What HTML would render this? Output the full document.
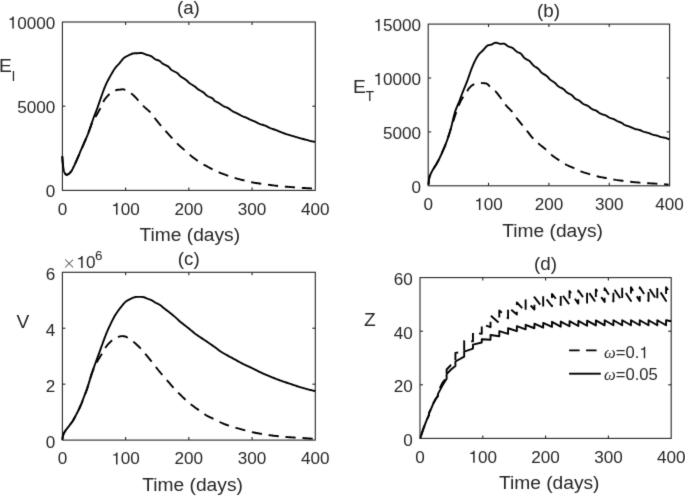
<!DOCTYPE html>
<html><head><meta charset="utf-8"><style>
html,body{margin:0;padding:0;background:#fff;}
svg{display:block;filter:grayscale(1);}
text{font-family:"Liberation Sans", sans-serif;fill:#262626;}
</style></head><body>
<svg width="685" height="496" viewBox="0 0 685 496">
<defs><filter id="sb" x="0" y="0" width="100%" height="100%" filterUnits="userSpaceOnUse" color-interpolation-filters="sRGB"><feConvolveMatrix order="3" kernelMatrix="0.01134 0.08382 0.01134 0.08382 0.61935 0.08382 0.01134 0.08382 0.01134" divisor="1" edgeMode="duplicate"/></filter></defs>
<g filter="url(#sb)">
<rect width="685" height="496" fill="#fff"/>
<rect x="62.4" y="22.0" width="252.90" height="168.40" fill="none" stroke="#262626" stroke-width="1.1"/>
<line x1="125.62" y1="190.4" x2="125.62" y2="187.4" stroke="#262626" stroke-width="1.1"/>
<line x1="125.62" y1="22.0" x2="125.62" y2="25.0" stroke="#262626" stroke-width="1.1"/>
<line x1="188.85" y1="190.4" x2="188.85" y2="187.4" stroke="#262626" stroke-width="1.1"/>
<line x1="188.85" y1="22.0" x2="188.85" y2="25.0" stroke="#262626" stroke-width="1.1"/>
<line x1="252.08" y1="190.4" x2="252.08" y2="187.4" stroke="#262626" stroke-width="1.1"/>
<line x1="252.08" y1="22.0" x2="252.08" y2="25.0" stroke="#262626" stroke-width="1.1"/>
<line x1="62.4" y1="106.20" x2="65.4" y2="106.20" stroke="#262626" stroke-width="1.1"/>
<line x1="315.3" y1="106.20" x2="312.3" y2="106.20" stroke="#262626" stroke-width="1.1"/>
<text x="45.69" y="197.00" font-size="17.1">0</text>
<text x="17.16" y="112.80" font-size="17.1">5000</text>
<path d="M12.32,28.60 L13.79,28.60 L13.79,16.58 L12.59,16.58 C12.23,18.00 11.75,18.51 9.38,18.72 L9.38,19.78 L12.32,19.78 Z" fill="#262626"/>
<text x="17.16" y="28.60" font-size="17.1">0000</text>
<text x="57.64" y="214.70" font-size="17.1">0</text>
<path d="M116.03,214.70 L117.50,214.70 L117.50,202.68 L116.30,202.68 C115.94,204.10 115.46,204.61 113.09,204.82 L113.09,205.88 L116.03,205.88 Z" fill="#262626"/>
<text x="120.87" y="214.70" font-size="17.1">00</text>
<text x="174.58" y="214.70" font-size="17.1">200</text>
<text x="237.81" y="214.70" font-size="17.1">300</text>
<text x="301.03" y="214.70" font-size="17.1">400</text>
<rect x="428.2" y="24.1" width="241.40" height="161.70" fill="none" stroke="#262626" stroke-width="1.1"/>
<line x1="488.55" y1="185.8" x2="488.55" y2="182.8" stroke="#262626" stroke-width="1.1"/>
<line x1="488.55" y1="24.1" x2="488.55" y2="27.1" stroke="#262626" stroke-width="1.1"/>
<line x1="548.90" y1="185.8" x2="548.90" y2="182.8" stroke="#262626" stroke-width="1.1"/>
<line x1="548.90" y1="24.1" x2="548.90" y2="27.1" stroke="#262626" stroke-width="1.1"/>
<line x1="609.25" y1="185.8" x2="609.25" y2="182.8" stroke="#262626" stroke-width="1.1"/>
<line x1="609.25" y1="24.1" x2="609.25" y2="27.1" stroke="#262626" stroke-width="1.1"/>
<line x1="428.2" y1="131.90" x2="431.2" y2="131.90" stroke="#262626" stroke-width="1.1"/>
<line x1="669.6" y1="131.90" x2="666.6" y2="131.90" stroke="#262626" stroke-width="1.1"/>
<line x1="428.2" y1="78.00" x2="431.2" y2="78.00" stroke="#262626" stroke-width="1.1"/>
<line x1="669.6" y1="78.00" x2="666.6" y2="78.00" stroke="#262626" stroke-width="1.1"/>
<text x="411.49" y="192.80" font-size="17.1">0</text>
<text x="382.96" y="138.90" font-size="17.1">5000</text>
<path d="M378.12,85.00 L379.59,85.00 L379.59,72.98 L378.39,72.98 C378.03,74.40 377.55,74.91 375.18,75.12 L375.18,76.18 L378.12,76.18 Z" fill="#262626"/>
<text x="382.96" y="85.00" font-size="17.1">0000</text>
<path d="M378.12,31.10 L379.59,31.10 L379.59,19.08 L378.39,19.08 C378.03,20.50 377.55,21.01 375.18,21.22 L375.18,22.28 L378.12,22.28 Z" fill="#262626"/>
<text x="382.96" y="31.10" font-size="17.1">5000</text>
<text x="423.44" y="210.10" font-size="17.1">0</text>
<path d="M478.95,210.10 L480.42,210.10 L480.42,198.08 L479.23,198.08 C478.87,199.50 478.39,200.01 476.01,200.22 L476.01,201.28 L478.95,201.28 Z" fill="#262626"/>
<text x="483.79" y="210.10" font-size="17.1">00</text>
<text x="534.63" y="210.10" font-size="17.1">200</text>
<text x="594.98" y="210.10" font-size="17.1">300</text>
<text x="655.33" y="210.10" font-size="17.1">400</text>
<rect x="62.4" y="272.3" width="252.90" height="167.80" fill="none" stroke="#262626" stroke-width="1.1"/>
<line x1="125.62" y1="440.1" x2="125.62" y2="437.1" stroke="#262626" stroke-width="1.1"/>
<line x1="125.62" y1="272.3" x2="125.62" y2="275.3" stroke="#262626" stroke-width="1.1"/>
<line x1="188.85" y1="440.1" x2="188.85" y2="437.1" stroke="#262626" stroke-width="1.1"/>
<line x1="188.85" y1="272.3" x2="188.85" y2="275.3" stroke="#262626" stroke-width="1.1"/>
<line x1="252.08" y1="440.1" x2="252.08" y2="437.1" stroke="#262626" stroke-width="1.1"/>
<line x1="252.08" y1="272.3" x2="252.08" y2="275.3" stroke="#262626" stroke-width="1.1"/>
<line x1="62.4" y1="384.17" x2="65.4" y2="384.17" stroke="#262626" stroke-width="1.1"/>
<line x1="315.3" y1="384.17" x2="312.3" y2="384.17" stroke="#262626" stroke-width="1.1"/>
<line x1="62.4" y1="328.23" x2="65.4" y2="328.23" stroke="#262626" stroke-width="1.1"/>
<line x1="315.3" y1="328.23" x2="312.3" y2="328.23" stroke="#262626" stroke-width="1.1"/>
<text x="45.69" y="447.60" font-size="17.1">0</text>
<text x="45.69" y="391.67" font-size="17.1">2</text>
<text x="45.69" y="335.73" font-size="17.1">4</text>
<text x="45.69" y="279.80" font-size="17.1">6</text>
<text x="57.64" y="464.40" font-size="17.1">0</text>
<path d="M116.03,464.40 L117.50,464.40 L117.50,452.38 L116.30,452.38 C115.94,453.80 115.46,454.31 113.09,454.52 L113.09,455.58 L116.03,455.58 Z" fill="#262626"/>
<text x="120.87" y="464.40" font-size="17.1">00</text>
<text x="174.58" y="464.40" font-size="17.1">200</text>
<text x="237.81" y="464.40" font-size="17.1">300</text>
<text x="301.03" y="464.40" font-size="17.1">400</text>
<rect x="420.0" y="277.6" width="251.20" height="160.80" fill="none" stroke="#262626" stroke-width="1.1"/>
<line x1="482.80" y1="438.4" x2="482.80" y2="435.4" stroke="#262626" stroke-width="1.1"/>
<line x1="482.80" y1="277.6" x2="482.80" y2="280.6" stroke="#262626" stroke-width="1.1"/>
<line x1="545.60" y1="438.4" x2="545.60" y2="435.4" stroke="#262626" stroke-width="1.1"/>
<line x1="545.60" y1="277.6" x2="545.60" y2="280.6" stroke="#262626" stroke-width="1.1"/>
<line x1="608.40" y1="438.4" x2="608.40" y2="435.4" stroke="#262626" stroke-width="1.1"/>
<line x1="608.40" y1="277.6" x2="608.40" y2="280.6" stroke="#262626" stroke-width="1.1"/>
<line x1="420.0" y1="384.80" x2="423.0" y2="384.80" stroke="#262626" stroke-width="1.1"/>
<line x1="671.2" y1="384.80" x2="668.2" y2="384.80" stroke="#262626" stroke-width="1.1"/>
<line x1="420.0" y1="331.20" x2="423.0" y2="331.20" stroke="#262626" stroke-width="1.1"/>
<line x1="671.2" y1="331.20" x2="668.2" y2="331.20" stroke="#262626" stroke-width="1.1"/>
<text x="403.29" y="445.90" font-size="17.1">0</text>
<text x="393.78" y="392.30" font-size="17.1">20</text>
<text x="393.78" y="338.70" font-size="17.1">40</text>
<text x="393.78" y="285.10" font-size="17.1">60</text>
<text x="415.24" y="462.70" font-size="17.1">0</text>
<path d="M473.20,462.70 L474.67,462.70 L474.67,450.68 L473.48,450.68 C473.12,452.10 472.64,452.61 470.26,452.82 L470.26,453.88 L473.20,453.88 Z" fill="#262626"/>
<text x="478.04" y="462.70" font-size="17.1">00</text>
<text x="531.33" y="462.70" font-size="17.1">200</text>
<text x="594.13" y="462.70" font-size="17.1">300</text>
<text x="656.93" y="462.70" font-size="17.1">400</text>
<text x="139.50" y="240.70" font-size="19.2" class="xl">Time (days)</text>
<text x="502.30" y="236.50" font-size="19.2" class="xl">Time (days)</text>
<text x="142.30" y="490.90" font-size="19.2" class="xl">Time (days)</text>
<text x="498.90" y="488.60" font-size="19.2" class="xl">Time (days)</text>
<text x="188.40" y="14.30" text-anchor="middle" font-size="18.8">(a)</text>
<text x="548.50" y="16.60" text-anchor="middle" font-size="18.8">(b)</text>
<text x="188.80" y="264.90" text-anchor="middle" font-size="18.8">(c)</text>
<text x="545.60" y="269.90" text-anchor="middle" font-size="18.8">(d)</text>
<text x="-1.0" y="72.3" font-size="19.2">E</text>
<text x="11.5" y="81.0" font-size="14">I</text>
<text x="352.9" y="92.5" font-size="19.2">E</text>
<text x="365.6" y="101.1" font-size="14">T</text>
<text x="16.5" y="328.2" font-size="19.2">V</text>
<text x="364.0" y="325.7" font-size="19.2">Z</text>
<path d="M65.2,259.6 L73.1,267.4 M73.1,259.6 L65.2,267.4" stroke="#262626" stroke-width="0.95" fill="none"/>
<path d="M81.17,268.00 L82.64,268.00 L82.64,255.98 L81.44,255.98 C81.08,257.40 80.60,257.91 78.23,258.12 L78.23,259.18 L81.17,259.18 Z" fill="#262626"/>
<text x="86.01" y="268.00" font-size="17.1">0</text>
<text x="94.9" y="259.7" font-size="13.4">6</text>
<path d="M62.30,156.30 L62.36,157.27 L62.43,158.25 L62.49,159.22 L62.55,160.20 L62.62,161.16 L62.70,162.10 L62.78,163.04 L62.87,163.97 L62.97,164.89 L63.07,165.80 L63.18,166.67 L63.30,167.50 L63.43,168.30 L63.56,169.08 L63.69,169.83 L63.84,170.54 L64.01,171.20 L64.20,171.80 L64.42,172.35 L64.67,172.84 L64.93,173.29 L65.20,173.69 L65.46,174.03 L65.70,174.30 L65.91,174.50 L66.11,174.63 L66.29,174.70 L66.48,174.73 L66.68,174.72 L66.90,174.70 L67.14,174.66 L67.40,174.58 L67.66,174.47 L67.94,174.34 L68.22,174.18 L68.50,174.00 L68.79,173.80 L69.09,173.57 L69.39,173.31 L69.69,173.03 L70.00,172.73 L70.30,172.40 L70.59,172.07 L70.87,171.74 L71.14,171.39 L71.43,170.99 L71.75,170.50 L72.10,169.90 L72.51,169.15 L72.96,168.25 L73.44,167.28 L73.92,166.27 L74.38,165.29 L74.80,164.40 L75.17,163.60 L75.51,162.84 L75.84,162.11 L76.15,161.39 L76.47,160.66 L76.80,159.90 L77.15,159.11 L77.50,158.31 L77.86,157.50 L78.22,156.69 L78.57,155.89 L78.90,155.10 L79.21,154.34 L79.51,153.59 L79.79,152.85 L80.08,152.11 L80.38,151.36 L80.70,150.60 L81.03,149.85 L81.36,149.14 L81.70,148.41 L82.06,147.64 L82.46,146.78 L82.90,145.80 L83.41,144.65 L83.97,143.35 L84.57,141.97 L85.17,140.56 L85.76,139.18 L86.30,137.90 L86.77,136.78 L87.20,135.77 L87.61,134.81 L88.02,133.78 L88.48,132.61 L89.00,131.20 L89.60,129.51 L90.24,127.60 L90.93,125.54 L91.64,123.40 L92.37,121.27 L93.10,119.20 L93.84,117.18 L94.62,115.16 L95.41,113.13 L96.19,111.10 L96.96,109.09 L97.70,107.10 L98.40,105.12 L99.09,103.14 L99.75,101.17 L100.40,99.23 L101.05,97.33 L101.70,95.50 L102.34,93.73 L102.96,92.01 L103.57,90.33 L104.19,88.69 L104.83,87.08 L105.50,85.50 L106.20,83.95 L106.93,82.43 L107.67,80.94 L108.44,79.48 L109.21,78.04 L110.00,76.60 L110.81,75.14 L111.65,73.67 L112.51,72.21 L113.36,70.80 L114.20,69.49 L115.00,68.30 L115.77,67.28 L116.51,66.40 L117.24,65.61 L117.96,64.86 L118.67,64.11 L119.40,63.30 L120.13,62.41 L120.86,61.49 L121.59,60.55 L122.33,59.65 L123.06,58.82 L123.80,58.10 L124.54,57.51 L125.29,57.02 L126.03,56.60 L126.78,56.23 L127.54,55.87 L128.30,55.50 L129.08,55.11 L129.87,54.72 L130.67,54.35 L131.46,54.01 L132.24,53.72 L133.00,53.50 L133.73,53.36 L134.43,53.30 L135.12,53.29 L135.80,53.31 L136.49,53.32 L137.20,53.30 L137.91,53.23 L138.63,53.13 L139.35,53.03 L140.08,52.95 L140.83,52.93 L141.60,53.00 L142.41,53.18 L143.24,53.45 L144.10,53.77 L144.96,54.12 L145.79,54.46 L146.60,54.75 L147.37,54.98 L148.12,55.16 L148.85,55.34 L149.57,55.54 L150.29,55.78 L151.00,56.10 L151.71,56.53 L152.41,57.06 L153.11,57.63 L153.81,58.21 L154.50,58.75 L155.20,59.20 L155.91,59.54 L156.63,59.80 L157.35,60.02 L158.06,60.23 L158.75,60.48 L159.40,60.80 L159.99,61.20 L160.51,61.65 L161.02,62.14 L161.54,62.65 L162.12,63.15 L162.80,63.65 L163.62,64.13 L164.56,64.61 L165.56,65.09 L166.55,65.58 L167.49,66.08 L168.30,66.60 L168.95,67.15 L169.48,67.71 L169.94,68.30 L170.41,68.88 L170.94,69.45 L171.60,70.00 L172.43,70.52 L173.38,71.02 L174.40,71.51 L175.42,71.99 L176.37,72.49 L177.20,73.00 L177.86,73.53 L178.39,74.06 L178.85,74.61 L179.31,75.16 L179.84,75.72 L180.50,76.30 L181.33,76.90 L182.28,77.53 L183.30,78.17 L184.32,78.80 L185.27,79.42 L186.10,80.00 L186.76,80.53 L187.29,81.03 L187.76,81.51 L188.22,81.98 L188.75,82.47 L189.40,83.00 L190.21,83.57 L191.15,84.19 L192.14,84.81 L193.14,85.44 L194.08,86.04 L194.90,86.60 L195.56,87.11 L196.11,87.57 L196.60,88.02 L197.09,88.46 L197.64,88.91 L198.30,89.40 L199.12,89.92 L200.06,90.47 L201.06,91.03 L202.05,91.60 L202.99,92.16 L203.80,92.70 L204.45,93.23 L204.98,93.76 L205.44,94.29 L205.91,94.80 L206.44,95.31 L207.10,95.80 L207.94,96.28 L208.94,96.75 L209.99,97.21 L211.03,97.65 L211.96,98.08 L212.70,98.50 L213.19,98.89 L213.48,99.26 L213.66,99.61 L213.83,99.96 L214.08,100.32 L214.50,100.70 L215.11,101.09 L215.83,101.49 L216.63,101.90 L217.47,102.32 L218.31,102.75 L219.10,103.20 L219.86,103.68 L220.61,104.20 L221.36,104.74 L222.10,105.26 L222.85,105.76 L223.60,106.20 L224.35,106.57 L225.10,106.87 L225.84,107.14 L226.59,107.41 L227.34,107.72 L228.10,108.10 L228.86,108.57 L229.63,109.11 L230.40,109.69 L231.17,110.27 L231.94,110.82 L232.70,111.30 L233.45,111.71 L234.20,112.07 L234.95,112.39 L235.70,112.71 L236.45,113.04 L237.20,113.40 L237.96,113.80 L238.73,114.23 L239.50,114.67 L240.27,115.10 L241.04,115.52 L241.80,115.90 L242.56,116.24 L243.31,116.54 L244.06,116.82 L244.80,117.10 L245.55,117.38 L246.30,117.70 L247.05,118.05 L247.80,118.41 L248.54,118.79 L249.29,119.17 L250.04,119.55 L250.80,119.90 L251.56,120.23 L252.33,120.54 L253.10,120.85 L253.87,121.16 L254.64,121.47 L255.40,121.80 L256.15,122.16 L256.88,122.53 L257.61,122.92 L258.35,123.30 L259.11,123.66 L259.90,124.00 L260.73,124.29 L261.59,124.54 L262.46,124.78 L263.35,125.02 L264.23,125.29 L265.10,125.60 L265.96,125.97 L266.81,126.40 L267.66,126.84 L268.51,127.29 L269.36,127.72 L270.20,128.10 L271.04,128.42 L271.87,128.71 L272.70,128.97 L273.53,129.23 L274.36,129.50 L275.20,129.80 L276.04,130.13 L276.89,130.48 L277.74,130.84 L278.60,131.20 L279.45,131.56 L280.30,131.90 L281.15,132.23 L282.00,132.56 L282.85,132.89 L283.70,133.20 L284.55,133.51 L285.40,133.80 L286.25,134.07 L287.10,134.33 L287.95,134.58 L288.80,134.81 L289.65,135.05 L290.50,135.30 L291.35,135.55 L292.20,135.80 L293.06,136.05 L293.91,136.30 L294.76,136.55 L295.60,136.80 L296.44,137.05 L297.27,137.30 L298.10,137.56 L298.93,137.81 L299.76,138.06 L300.60,138.30 L301.44,138.54 L302.29,138.77 L303.14,139.01 L304.00,139.24 L304.85,139.47 L305.70,139.70 L306.56,139.94 L307.43,140.19 L308.31,140.44 L309.17,140.68 L310.00,140.90 L310.80,141.10 L311.55,141.27 L312.27,141.41 L312.96,141.54 L313.63,141.66 L314.31,141.77 L315.00,141.90" fill="none" stroke="#000" stroke-width="1.9" stroke-linejoin="round"/>
<path d="M62.30,156.30 L62.36,157.27 L62.43,158.25 L62.49,159.22 L62.55,160.20 L62.62,161.16 L62.70,162.10 L62.78,163.04 L62.87,163.97 L62.97,164.89 L63.07,165.80 L63.18,166.67 L63.30,167.50 L63.43,168.30 L63.56,169.08 L63.69,169.83 L63.84,170.54 L64.01,171.20 L64.20,171.80 L64.42,172.35 L64.67,172.84 L64.93,173.29 L65.20,173.69 L65.46,174.03 L65.70,174.30 L65.91,174.50 L66.11,174.63 L66.29,174.70 L66.48,174.73 L66.68,174.72 L66.90,174.70 L67.14,174.66 L67.40,174.58 L67.66,174.47 L67.94,174.34 L68.22,174.18 L68.50,174.00 L68.79,173.80 L69.09,173.57 L69.39,173.31 L69.69,173.03 L70.00,172.73 L70.30,172.40 L70.59,172.07 L70.87,171.74 L71.14,171.39 L71.43,170.99 L71.75,170.50 L72.10,169.90 L72.51,169.15 L72.96,168.25 L73.44,167.28 L73.92,166.27 L74.38,165.29 L74.80,164.40 L75.17,163.60 L75.51,162.84 L75.84,162.11 L76.15,161.39 L76.47,160.66 L76.80,159.90 L77.15,159.11 L77.50,158.31 L77.86,157.50 L78.22,156.69 L78.57,155.89 L78.90,155.10 L79.21,154.34 L79.51,153.59 L79.79,152.85 L80.08,152.11 L80.38,151.36 L80.70,150.60 L81.03,149.85 L81.36,149.14 L81.70,148.41 L82.06,147.64 L82.46,146.78 L82.90,145.80 L83.41,144.65 L83.97,143.35 L84.57,141.97 L85.17,140.56 L85.76,139.18 L86.30,137.90 L86.78,136.74 L87.22,135.67 L87.64,134.63 L88.07,133.57 L88.51,132.45 L89.00,131.20 L89.53,129.78 L90.10,128.21 L90.69,126.57 L91.29,124.94 L91.90,123.39 L92.50,122.00 L93.10,120.80 L93.69,119.75 L94.29,118.78 L94.90,117.83 L95.53,116.82 L96.20,115.70 L96.92,114.44 L97.70,113.07 L98.49,111.66 L99.28,110.25 L100.03,108.88 L100.70,107.60 L101.29,106.39 L101.82,105.22 L102.31,104.09 L102.77,103.01 L103.23,102.01 L103.70,101.10 L104.16,100.30 L104.60,99.61 L105.04,98.99 L105.49,98.40 L105.97,97.82 L106.50,97.20 L107.08,96.54 L107.68,95.87 L108.32,95.20 L109.00,94.54 L109.72,93.90 L110.50,93.30 L111.37,92.71 L112.34,92.11 L113.36,91.54 L114.38,91.02 L115.34,90.56 L116.20,90.20 L116.94,89.95 L117.61,89.80 L118.22,89.72 L118.80,89.68 L119.39,89.65 L120.00,89.60 L120.65,89.52 L121.32,89.44 L121.99,89.36 L122.64,89.32 L123.25,89.32 L123.80,89.40 L124.23,89.54 L124.54,89.74 L124.81,89.99 L125.11,90.28 L125.51,90.62 L126.10,91.00 L126.89,91.40 L127.83,91.81 L128.88,92.28 L129.99,92.81 L131.11,93.44 L132.20,94.20 L133.29,95.14 L134.41,96.24 L135.56,97.45 L136.69,98.69 L137.78,99.89 L138.80,101.00 L139.72,101.99 L140.56,102.92 L141.36,103.81 L142.17,104.70 L143.03,105.62 L144.00,106.60 L145.12,107.65 L146.36,108.76 L147.66,109.89 L148.94,111.02 L150.14,112.13 L151.20,113.20 L152.07,114.20 L152.80,115.16 L153.46,116.09 L154.09,117.02 L154.75,117.98 L155.50,119.00 L156.34,120.08 L157.23,121.20 L158.15,122.35 L159.09,123.51 L160.05,124.67 L161.00,125.80 L161.95,126.90 L162.91,127.99 L163.88,129.06 L164.87,130.15 L165.87,131.26 L166.90,132.40 L167.98,133.61 L169.10,134.89 L170.24,136.19 L171.38,137.47 L172.47,138.68 L173.50,139.80 L174.45,140.80 L175.33,141.72 L176.18,142.58 L177.01,143.39 L177.84,144.19 L178.70,145.00 L179.55,145.78 L180.38,146.50 L181.21,147.21 L182.07,147.94 L182.99,148.72 L184.00,149.60 L185.12,150.59 L186.32,151.68 L187.59,152.82 L188.89,153.99 L190.20,155.12 L191.50,156.20 L192.81,157.24 L194.16,158.27 L195.53,159.28 L196.87,160.25 L198.17,161.16 L199.40,162.00 L200.51,162.73 L201.52,163.35 L202.49,163.92 L203.47,164.47 L204.52,165.05 L205.70,165.70 L207.06,166.45 L208.55,167.26 L210.12,168.10 L211.69,168.93 L213.21,169.71 L214.60,170.40 L215.82,170.98 L216.93,171.48 L217.97,171.93 L219.02,172.36 L220.14,172.81 L221.40,173.30 L222.85,173.85 L224.44,174.44 L226.10,175.05 L227.76,175.64 L229.35,176.20 L230.80,176.70 L232.05,177.12 L233.16,177.49 L234.19,177.82 L235.23,178.13 L236.34,178.45 L237.60,178.80 L239.05,179.18 L240.64,179.57 L242.31,179.98 L243.98,180.37 L245.60,180.75 L247.10,181.10 L248.44,181.42 L249.67,181.73 L250.84,182.01 L252.02,182.29 L253.25,182.55 L254.60,182.80 L256.10,183.04 L257.72,183.27 L259.40,183.49 L261.08,183.70 L262.70,183.90 L264.20,184.10 L265.55,184.29 L266.78,184.48 L267.96,184.66 L269.13,184.84 L270.36,185.02 L271.70,185.20 L273.19,185.39 L274.79,185.59 L276.45,185.78 L278.11,185.97 L279.71,186.15 L281.20,186.30 L282.54,186.43 L283.77,186.53 L284.94,186.63 L286.12,186.71 L287.35,186.80 L288.70,186.90 L290.20,187.01 L291.80,187.13 L293.47,187.26 L295.14,187.38 L296.77,187.49 L298.30,187.60 L299.72,187.69 L301.07,187.78 L302.37,187.86 L303.66,187.94 L304.96,188.02 L306.30,188.10 L307.69,188.18 L309.10,188.27 L310.52,188.35 L311.95,188.43 L313.38,188.52 L314.80,188.60" fill="none" stroke="#000" stroke-width="1.9" stroke-linejoin="round" stroke-dasharray="10.2 6.8"/>
<path d="M428.50,184.70 L428.61,183.62 L428.71,182.51 L428.82,181.39 L428.93,180.31 L429.05,179.31 L429.20,178.40 L429.35,177.64 L429.51,177.00 L429.68,176.43 L429.88,175.87 L430.11,175.28 L430.40,174.60 L430.75,173.83 L431.14,173.00 L431.57,172.13 L432.04,171.25 L432.52,170.37 L433.00,169.50 L433.50,168.66 L434.03,167.82 L434.57,166.99 L435.12,166.14 L435.67,165.28 L436.20,164.40 L436.72,163.50 L437.24,162.59 L437.75,161.67 L438.26,160.72 L438.78,159.73 L439.30,158.70 L439.83,157.62 L440.36,156.49 L440.89,155.32 L441.43,154.13 L441.97,152.92 L442.50,151.70 L443.04,150.46 L443.59,149.19 L444.14,147.90 L444.69,146.61 L445.21,145.34 L445.70,144.10 L446.16,142.91 L446.58,141.77 L446.99,140.64 L447.39,139.51 L447.79,138.33 L448.20,137.10 L448.61,135.89 L449.00,134.74 L449.39,133.56 L449.81,132.24 L450.27,130.68 L450.80,128.80 L451.41,126.44 L452.07,123.64 L452.79,120.62 L453.53,117.56 L454.27,114.65 L455.00,112.10 L455.73,109.91 L456.49,107.93 L457.26,106.11 L458.01,104.40 L458.73,102.75 L459.40,101.10 L460.00,99.52 L460.54,98.06 L461.04,96.66 L461.55,95.25 L462.09,93.79 L462.70,92.20 L463.39,90.48 L464.13,88.66 L464.91,86.79 L465.70,84.88 L466.47,82.98 L467.20,81.10 L467.89,79.22 L468.56,77.30 L469.21,75.38 L469.85,73.49 L470.48,71.69 L471.10,70.00 L471.70,68.44 L472.28,66.98 L472.84,65.59 L473.41,64.27 L473.99,62.98 L474.60,61.70 L475.23,60.43 L475.88,59.17 L476.54,57.96 L477.22,56.79 L477.90,55.70 L478.60,54.70 L479.31,53.82 L480.04,53.05 L480.78,52.35 L481.53,51.69 L482.27,51.01 L483.00,50.30 L483.73,49.50 L484.45,48.65 L485.18,47.79 L485.89,46.98 L486.60,46.27 L487.30,45.70 L487.98,45.32 L488.64,45.10 L489.30,44.98 L489.96,44.90 L490.62,44.79 L491.30,44.60 L492.00,44.29 L492.71,43.91 L493.43,43.51 L494.15,43.14 L494.87,42.85 L495.60,42.70 L496.33,42.72 L497.06,42.89 L497.79,43.13 L498.53,43.40 L499.27,43.65 L500.00,43.80 L500.74,43.83 L501.49,43.79 L502.23,43.71 L502.97,43.65 L503.70,43.66 L504.40,43.80 L505.07,44.09 L505.72,44.51 L506.35,44.99 L506.98,45.50 L507.63,45.99 L508.30,46.40 L509.01,46.71 L509.74,46.97 L510.49,47.19 L511.24,47.43 L511.98,47.72 L512.70,48.10 L513.39,48.59 L514.05,49.18 L514.71,49.82 L515.36,50.46 L516.02,51.07 L516.70,51.60 L517.41,52.02 L518.14,52.35 L518.88,52.65 L519.61,52.96 L520.33,53.33 L521.00,53.80 L521.61,54.41 L522.17,55.13 L522.70,55.90 L523.24,56.69 L523.83,57.43 L524.50,58.10 L525.27,58.66 L526.12,59.14 L527.02,59.59 L527.92,60.04 L528.80,60.53 L529.60,61.10 L530.32,61.78 L530.99,62.54 L531.63,63.34 L532.26,64.15 L532.91,64.91 L533.60,65.60 L534.34,66.19 L535.13,66.70 L535.93,67.18 L536.73,67.65 L537.49,68.15 L538.20,68.70 L538.83,69.32 L539.39,69.99 L539.93,70.69 L540.46,71.39 L541.04,72.06 L541.70,72.70 L542.46,73.29 L543.31,73.84 L544.19,74.37 L545.08,74.90 L545.93,75.43 L546.70,76.00 L547.37,76.60 L547.97,77.23 L548.53,77.86 L549.09,78.50 L549.66,79.11 L550.30,79.70 L551.01,80.25 L551.77,80.76 L552.56,81.26 L553.34,81.76 L554.10,82.27 L554.80,82.80 L555.42,83.37 L555.98,83.96 L556.51,84.57 L557.05,85.17 L557.64,85.75 L558.30,86.30 L559.08,86.80 L559.94,87.27 L560.85,87.71 L561.76,88.16 L562.62,88.61 L563.40,89.10 L564.06,89.63 L564.63,90.18 L565.16,90.75 L565.68,91.32 L566.25,91.87 L566.90,92.40 L567.67,92.89 L568.53,93.35 L569.42,93.80 L570.32,94.25 L571.16,94.71 L571.90,95.20 L572.51,95.73 L573.03,96.30 L573.49,96.89 L573.94,97.46 L574.43,98.01 L575.00,98.50 L575.67,98.92 L576.40,99.28 L577.17,99.61 L577.94,99.94 L578.70,100.29 L579.40,100.70 L580.03,101.17 L580.60,101.70 L581.16,102.25 L581.72,102.80 L582.32,103.33 L583.00,103.80 L583.78,104.21 L584.64,104.57 L585.54,104.91 L586.45,105.25 L587.31,105.60 L588.10,106.00 L588.79,106.46 L589.41,106.96 L589.99,107.48 L590.57,107.99 L591.16,108.47 L591.80,108.90 L592.49,109.25 L593.22,109.54 L593.96,109.80 L594.71,110.06 L595.46,110.35 L596.20,110.70 L596.91,111.13 L597.61,111.63 L598.30,112.15 L599.00,112.67 L599.73,113.17 L600.50,113.60 L601.33,113.96 L602.23,114.27 L603.14,114.54 L604.05,114.81 L604.92,115.09 L605.70,115.40 L606.38,115.75 L606.99,116.13 L607.55,116.52 L608.10,116.90 L608.67,117.27 L609.30,117.60 L610.00,117.88 L610.74,118.13 L611.50,118.36 L612.26,118.59 L613.00,118.83 L613.70,119.10 L614.34,119.41 L614.93,119.74 L615.50,120.08 L616.07,120.43 L616.66,120.77 L617.30,121.10 L618.00,121.41 L618.76,121.71 L619.54,122.00 L620.31,122.29 L621.04,122.59 L621.70,122.90 L622.24,123.22 L622.69,123.56 L623.09,123.89 L623.51,124.23 L624.00,124.57 L624.60,124.90 L625.34,125.22 L626.19,125.53 L627.10,125.84 L628.04,126.15 L628.99,126.47 L629.90,126.80 L630.79,127.16 L631.70,127.56 L632.60,127.96 L633.49,128.34 L634.36,128.70 L635.20,129.00 L636.00,129.23 L636.79,129.40 L637.54,129.54 L638.28,129.67 L639.00,129.81 L639.70,130.00 L640.36,130.23 L640.96,130.49 L641.54,130.77 L642.14,131.05 L642.78,131.33 L643.50,131.60 L644.33,131.86 L645.24,132.11 L646.20,132.36 L647.16,132.60 L648.07,132.85 L648.90,133.10 L649.62,133.35 L650.26,133.61 L650.86,133.87 L651.44,134.13 L652.04,134.37 L652.70,134.60 L653.42,134.80 L654.17,134.99 L654.95,135.16 L655.73,135.33 L656.48,135.51 L657.20,135.70 L657.86,135.91 L658.49,136.13 L659.09,136.36 L659.70,136.59 L660.33,136.80 L661.00,137.00 L661.73,137.17 L662.50,137.31 L663.30,137.44 L664.10,137.58 L664.87,137.73 L665.60,137.90 L666.28,138.10 L666.93,138.33 L667.55,138.57 L668.16,138.81 L668.78,139.06 L669.40,139.30" fill="none" stroke="#000" stroke-width="1.9" stroke-linejoin="round"/>
<path d="M428.50,184.70 L428.61,183.62 L428.71,182.51 L428.82,181.39 L428.93,180.31 L429.05,179.31 L429.20,178.40 L429.35,177.64 L429.51,177.00 L429.68,176.43 L429.88,175.87 L430.11,175.28 L430.40,174.60 L430.75,173.83 L431.14,173.00 L431.57,172.13 L432.04,171.25 L432.52,170.37 L433.00,169.50 L433.50,168.66 L434.03,167.82 L434.57,166.99 L435.12,166.14 L435.67,165.28 L436.20,164.40 L436.72,163.50 L437.24,162.59 L437.75,161.67 L438.26,160.72 L438.78,159.73 L439.30,158.70 L439.83,157.62 L440.36,156.49 L440.89,155.32 L441.43,154.13 L441.97,152.92 L442.50,151.70 L443.04,150.46 L443.59,149.19 L444.14,147.90 L444.69,146.61 L445.21,145.34 L445.70,144.10 L446.16,142.91 L446.58,141.77 L446.99,140.64 L447.39,139.51 L447.79,138.33 L448.20,137.10 L448.60,135.86 L448.98,134.66 L449.36,133.41 L449.77,132.07 L450.24,130.55 L450.80,128.80 L451.47,126.71 L452.24,124.31 L453.07,121.74 L453.91,119.14 L454.74,116.65 L455.50,114.40 L456.20,112.36 L456.88,110.42 L457.54,108.58 L458.17,106.86 L458.79,105.26 L459.40,103.80 L459.99,102.49 L460.56,101.32 L461.12,100.28 L461.66,99.34 L462.19,98.49 L462.70,97.70 L463.20,97.04 L463.67,96.53 L464.13,96.10 L464.59,95.69 L465.04,95.21 L465.50,94.60 L465.96,93.82 L466.41,92.93 L466.87,91.97 L467.33,91.01 L467.80,90.10 L468.30,89.30 L468.81,88.60 L469.32,87.96 L469.84,87.36 L470.39,86.81 L470.97,86.29 L471.60,85.80 L472.26,85.33 L472.93,84.87 L473.64,84.46 L474.40,84.08 L475.21,83.76 L476.10,83.50 L477.10,83.31 L478.23,83.18 L479.41,83.11 L480.59,83.07 L481.70,83.08 L482.70,83.10 L483.57,83.13 L484.37,83.19 L485.10,83.27 L485.79,83.40 L486.45,83.61 L487.10,83.90 L487.70,84.29 L488.22,84.76 L488.72,85.29 L489.23,85.89 L489.81,86.53 L490.50,87.20 L491.32,87.90 L492.24,88.63 L493.23,89.41 L494.24,90.24 L495.24,91.14 L496.20,92.10 L497.13,93.17 L498.06,94.33 L498.98,95.56 L499.88,96.81 L500.76,98.04 L501.60,99.20 L502.38,100.29 L503.09,101.34 L503.78,102.37 L504.48,103.39 L505.24,104.43 L506.10,105.50 L507.11,106.62 L508.24,107.77 L509.44,108.94 L510.62,110.10 L511.73,111.22 L512.70,112.30 L513.48,113.29 L514.13,114.22 L514.69,115.11 L515.25,116.01 L515.87,116.96 L516.60,118.00 L517.47,119.15 L518.44,120.37 L519.46,121.65 L520.50,122.94 L521.53,124.20 L522.50,125.40 L523.41,126.53 L524.29,127.61 L525.16,128.66 L526.02,129.71 L526.89,130.79 L527.80,131.90 L528.74,133.08 L529.69,134.32 L530.66,135.57 L531.64,136.81 L532.62,138.00 L533.60,139.10 L534.56,140.09 L535.51,140.99 L536.46,141.83 L537.43,142.66 L538.44,143.50 L539.50,144.40 L540.64,145.36 L541.86,146.35 L543.12,147.36 L544.37,148.36 L545.58,149.35 L546.70,150.30 L547.70,151.21 L548.61,152.08 L549.47,152.94 L550.34,153.79 L551.26,154.64 L552.30,155.50 L553.47,156.39 L554.74,157.30 L556.08,158.21 L557.42,159.11 L558.74,159.98 L560.00,160.80 L561.16,161.57 L562.26,162.30 L563.34,162.99 L564.43,163.67 L565.57,164.34 L566.80,165.00 L568.16,165.66 L569.63,166.32 L571.16,166.97 L572.68,167.60 L574.14,168.21 L575.50,168.80 L576.70,169.36 L577.77,169.89 L578.79,170.41 L579.82,170.91 L580.93,171.40 L582.20,171.90 L583.67,172.41 L585.30,172.91 L587.01,173.42 L588.73,173.91 L590.39,174.37 L591.90,174.80 L593.23,175.19 L594.42,175.54 L595.55,175.88 L596.68,176.19 L597.87,176.49 L599.20,176.80 L600.71,177.10 L602.36,177.40 L604.08,177.69 L605.79,177.97 L607.42,178.24 L608.90,178.50 L610.18,178.75 L611.30,179.00 L612.35,179.23 L613.40,179.46 L614.52,179.68 L615.80,179.90 L617.28,180.11 L618.89,180.32 L620.59,180.53 L622.30,180.72 L623.96,180.91 L625.50,181.10 L626.90,181.28 L628.21,181.46 L629.48,181.62 L630.73,181.79 L632.02,181.95 L633.40,182.10 L634.89,182.25 L636.45,182.39 L638.06,182.53 L639.66,182.66 L641.22,182.79 L642.70,182.90 L644.06,183.00 L645.34,183.09 L646.57,183.17 L647.81,183.24 L649.10,183.32 L650.50,183.40 L652.03,183.48 L653.67,183.56 L655.37,183.64 L657.07,183.72 L658.73,183.81 L660.30,183.90 L661.77,184.01 L663.18,184.12 L664.54,184.24 L665.89,184.36 L667.23,184.48 L668.60,184.60" fill="none" stroke="#000" stroke-width="1.9" stroke-linejoin="round" stroke-dasharray="10.2 6.8"/>
<path d="M62.30,439.60 L62.47,438.72 L62.62,437.82 L62.77,436.93 L62.94,436.04 L63.15,435.20 L63.40,434.40 L63.70,433.67 L64.03,433.00 L64.40,432.36 L64.80,431.73 L65.23,431.09 L65.70,430.40 L66.22,429.67 L66.78,428.91 L67.38,428.14 L68.00,427.36 L68.61,426.57 L69.20,425.80 L69.78,425.04 L70.36,424.29 L70.94,423.54 L71.51,422.78 L72.06,422.00 L72.60,421.20 L73.11,420.37 L73.60,419.53 L74.08,418.67 L74.55,417.79 L75.02,416.90 L75.50,416.00 L75.98,415.09 L76.47,414.16 L76.95,413.22 L77.43,412.26 L77.92,411.29 L78.40,410.30 L78.88,409.30 L79.37,408.29 L79.86,407.26 L80.34,406.21 L80.82,405.13 L81.30,404.00 L81.77,402.82 L82.24,401.59 L82.70,400.32 L83.16,399.04 L83.63,397.76 L84.10,396.50 L84.56,395.33 L85.00,394.26 L85.44,393.19 L85.91,392.03 L86.42,390.66 L87.00,389.00 L87.67,386.93 L88.42,384.49 L89.21,381.86 L90.01,379.20 L90.79,376.66 L91.50,374.40 L92.13,372.47 L92.72,370.74 L93.27,369.13 L93.83,367.57 L94.39,365.99 L95.00,364.30 L95.65,362.51 L96.33,360.67 L97.02,358.81 L97.72,356.94 L98.42,355.06 L99.10,353.20 L99.79,351.31 L100.48,349.37 L101.17,347.44 L101.85,345.55 L102.50,343.75 L103.10,342.10 L103.63,340.64 L104.11,339.33 L104.55,338.12 L104.99,336.94 L105.47,335.73 L106.00,334.40 L106.59,332.97 L107.21,331.50 L107.86,329.99 L108.54,328.45 L109.26,326.88 L110.00,325.30 L110.79,323.65 L111.62,321.93 L112.49,320.18 L113.37,318.45 L114.24,316.81 L115.10,315.30 L115.94,313.94 L116.77,312.68 L117.60,311.51 L118.43,310.39 L119.26,309.29 L120.10,308.20 L120.96,307.08 L121.83,305.96 L122.71,304.86 L123.58,303.83 L124.41,302.90 L125.20,302.10 L125.92,301.47 L126.58,300.99 L127.21,300.61 L127.83,300.29 L128.49,299.96 L129.20,299.60 L129.99,299.18 L130.83,298.75 L131.69,298.32 L132.56,297.92 L133.41,297.57 L134.20,297.30 L134.92,297.12 L135.60,297.00 L136.25,296.94 L136.90,296.92 L137.57,296.91 L138.30,296.90 L139.09,296.88 L139.93,296.87 L140.80,296.88 L141.67,296.91 L142.51,296.98 L143.30,297.10 L144.04,297.27 L144.74,297.50 L145.41,297.77 L146.07,298.05 L146.73,298.33 L147.40,298.60 L148.07,298.84 L148.74,299.06 L149.41,299.29 L150.07,299.53 L150.73,299.79 L151.40,300.10 L152.06,300.46 L152.71,300.86 L153.36,301.29 L154.02,301.74 L154.70,302.18 L155.40,302.60 L156.13,302.99 L156.87,303.34 L157.63,303.70 L158.41,304.08 L159.20,304.50 L160.00,305.00 L160.82,305.59 L161.67,306.25 L162.53,306.96 L163.39,307.69 L164.25,308.41 L165.10,309.10 L165.94,309.75 L166.77,310.37 L167.60,310.99 L168.43,311.61 L169.26,312.25 L170.10,312.90 L170.95,313.57 L171.80,314.26 L172.65,314.95 L173.50,315.66 L174.35,316.37 L175.20,317.10 L176.04,317.85 L176.87,318.63 L177.70,319.41 L178.53,320.20 L179.36,320.96 L180.20,321.70 L181.05,322.40 L181.90,323.08 L182.75,323.74 L183.60,324.39 L184.45,325.04 L185.30,325.70 L186.14,326.37 L186.97,327.03 L187.81,327.69 L188.64,328.36 L189.47,329.03 L190.30,329.70 L191.13,330.38 L191.96,331.08 L192.79,331.78 L193.63,332.47 L194.46,333.15 L195.30,333.80 L196.15,334.42 L197.00,335.02 L197.86,335.61 L198.72,336.18 L199.57,336.74 L200.40,337.30 L201.21,337.85 L202.01,338.38 L202.80,338.90 L203.59,339.42 L204.39,339.95 L205.20,340.50 L206.04,341.07 L206.89,341.65 L207.75,342.24 L208.61,342.84 L209.46,343.42 L210.30,344.00 L211.11,344.55 L211.91,345.09 L212.70,345.62 L213.49,346.16 L214.29,346.72 L215.10,347.30 L215.93,347.93 L216.78,348.59 L217.64,349.27 L218.50,349.94 L219.35,350.60 L220.20,351.20 L221.04,351.75 L221.87,352.27 L222.70,352.77 L223.53,353.25 L224.36,353.72 L225.20,354.20 L226.05,354.68 L226.90,355.15 L227.75,355.62 L228.60,356.08 L229.45,356.54 L230.30,357.00 L231.14,357.45 L231.97,357.90 L232.81,358.35 L233.64,358.80 L234.47,359.25 L235.30,359.70 L236.13,360.16 L236.96,360.63 L237.79,361.11 L238.63,361.58 L239.46,362.04 L240.30,362.50 L241.15,362.95 L242.00,363.40 L242.85,363.84 L243.70,364.27 L244.55,364.69 L245.40,365.10 L246.24,365.49 L247.07,365.85 L247.90,366.20 L248.73,366.55 L249.56,366.91 L250.40,367.30 L251.21,367.70 L251.99,368.10 L252.78,368.51 L253.60,368.94 L254.49,369.40 L255.50,369.90 L256.67,370.47 L258.00,371.11 L259.39,371.77 L260.79,372.44 L262.12,373.06 L263.30,373.60 L264.32,374.05 L265.22,374.44 L266.06,374.79 L266.86,375.12 L267.66,375.45 L268.50,375.80 L269.38,376.17 L270.26,376.54 L271.15,376.91 L272.04,377.28 L272.92,377.64 L273.80,378.00 L274.67,378.35 L275.54,378.69 L276.40,379.02 L277.26,379.35 L278.13,379.67 L279.00,380.00 L279.88,380.32 L280.76,380.65 L281.65,380.97 L282.54,381.29 L283.42,381.60 L284.30,381.90 L285.17,382.19 L286.04,382.48 L286.90,382.76 L287.76,383.03 L288.63,383.31 L289.50,383.60 L290.38,383.90 L291.26,384.20 L292.15,384.50 L293.04,384.80 L293.92,385.10 L294.80,385.40 L295.67,385.69 L296.54,385.98 L297.40,386.26 L298.26,386.54 L299.13,386.82 L300.00,387.10 L300.88,387.38 L301.76,387.65 L302.65,387.93 L303.54,388.19 L304.42,388.45 L305.30,388.70 L306.18,388.94 L307.06,389.16 L307.93,389.38 L308.80,389.59 L309.66,389.80 L310.50,390.00 L311.32,390.19 L312.13,390.38 L312.92,390.56 L313.71,390.74 L314.50,390.92 L315.30,391.10" fill="none" stroke="#000" stroke-width="1.9" stroke-linejoin="round"/>
<path d="M62.30,439.60 L62.47,438.72 L62.62,437.82 L62.77,436.93 L62.94,436.04 L63.15,435.20 L63.40,434.40 L63.70,433.67 L64.03,433.00 L64.40,432.36 L64.80,431.73 L65.23,431.09 L65.70,430.40 L66.22,429.67 L66.78,428.91 L67.38,428.14 L68.00,427.36 L68.61,426.57 L69.20,425.80 L69.78,425.04 L70.36,424.29 L70.94,423.54 L71.51,422.78 L72.06,422.00 L72.60,421.20 L73.11,420.37 L73.60,419.53 L74.08,418.67 L74.55,417.79 L75.02,416.90 L75.50,416.00 L75.98,415.09 L76.47,414.16 L76.95,413.22 L77.43,412.26 L77.92,411.29 L78.40,410.30 L78.88,409.30 L79.37,408.29 L79.86,407.26 L80.34,406.21 L80.82,405.13 L81.30,404.00 L81.77,402.82 L82.24,401.59 L82.70,400.32 L83.16,399.04 L83.63,397.76 L84.10,396.50 L84.56,395.33 L85.00,394.26 L85.44,393.19 L85.91,392.03 L86.42,390.66 L87.00,389.00 L87.67,386.89 L88.44,384.39 L89.24,381.69 L90.05,379.00 L90.82,376.50 L91.50,374.40 L92.09,372.74 L92.61,371.36 L93.09,370.17 L93.55,369.11 L94.01,368.08 L94.50,367.00 L94.99,365.92 L95.46,364.91 L95.92,363.94 L96.42,362.96 L96.97,361.93 L97.60,360.80 L98.34,359.54 L99.18,358.16 L100.07,356.74 L100.97,355.31 L101.83,353.95 L102.60,352.70 L103.26,351.56 L103.86,350.49 L104.41,349.48 L104.94,348.52 L105.50,347.59 L106.10,346.70 L106.76,345.83 L107.46,344.99 L108.18,344.18 L108.89,343.43 L109.57,342.73 L110.20,342.10 L110.73,341.57 L111.17,341.13 L111.58,340.75 L112.02,340.39 L112.54,340.02 L113.20,339.60 L114.04,339.10 L115.01,338.54 L116.07,337.96 L117.16,337.42 L118.22,336.95 L119.20,336.60 L120.11,336.37 L121.01,336.22 L121.88,336.15 L122.71,336.14 L123.52,336.20 L124.30,336.30 L125.01,336.45 L125.64,336.64 L126.24,336.90 L126.85,337.22 L127.52,337.62 L128.30,338.10 L129.18,338.67 L130.14,339.32 L131.16,340.05 L132.22,340.84 L133.31,341.70 L134.40,342.60 L135.54,343.59 L136.74,344.67 L137.97,345.81 L139.18,346.97 L140.34,348.11 L141.40,349.20 L142.33,350.21 L143.16,351.17 L143.93,352.12 L144.70,353.08 L145.50,354.10 L146.40,355.20 L147.42,356.43 L148.53,357.77 L149.68,359.16 L150.83,360.54 L151.92,361.88 L152.90,363.10 L153.74,364.18 L154.47,365.14 L155.14,366.05 L155.82,366.96 L156.55,367.92 L157.40,369.00 L158.40,370.23 L159.52,371.59 L160.69,372.99 L161.87,374.39 L162.99,375.72 L164.00,376.90 L164.86,377.90 L165.61,378.75 L166.31,379.52 L167.00,380.30 L167.75,381.13 L168.60,382.10 L169.59,383.24 L170.67,384.51 L171.81,385.85 L172.95,387.19 L174.06,388.46 L175.10,389.60 L176.03,390.58 L176.89,391.44 L177.71,392.24 L178.54,393.03 L179.42,393.86 L180.40,394.80 L181.51,395.88 L182.71,397.06 L183.96,398.29 L185.23,399.51 L186.45,400.66 L187.60,401.70 L188.64,402.59 L189.59,403.37 L190.51,404.08 L191.43,404.78 L192.42,405.50 L193.50,406.30 L194.72,407.19 L196.06,408.15 L197.45,409.14 L198.84,410.11 L200.18,411.05 L201.40,411.90 L202.46,412.65 L203.38,413.33 L204.25,413.97 L205.14,414.59 L206.13,415.22 L207.30,415.90 L208.71,416.64 L210.32,417.41 L212.03,418.21 L213.74,418.99 L215.37,419.73 L216.80,420.40 L217.98,420.99 L218.97,421.52 L219.87,422.01 L220.77,422.48 L221.78,422.97 L223.00,423.50 L224.49,424.09 L226.20,424.74 L228.01,425.39 L229.81,426.03 L231.52,426.61 L233.00,427.10 L234.19,427.47 L235.16,427.74 L236.02,427.95 L236.89,428.15 L237.87,428.39 L239.10,428.70 L240.64,429.11 L242.41,429.59 L244.31,430.11 L246.22,430.62 L248.02,431.09 L249.60,431.50 L250.90,431.82 L252.00,432.09 L253.00,432.32 L253.99,432.54 L255.05,432.76 L256.30,433.00 L257.77,433.27 L259.40,433.54 L261.11,433.82 L262.83,434.10 L264.48,434.36 L266.00,434.60 L267.34,434.81 L268.55,435.01 L269.70,435.19 L270.85,435.36 L272.06,435.53 L273.40,435.70 L274.91,435.88 L276.55,436.06 L278.26,436.23 L279.96,436.40 L281.60,436.56 L283.10,436.70 L284.42,436.82 L285.61,436.93 L286.72,437.03 L287.85,437.11 L289.05,437.20 L290.40,437.30 L291.96,437.40 L293.68,437.50 L295.48,437.61 L297.27,437.71 L298.97,437.81 L300.50,437.90 L301.82,437.99 L303.00,438.07 L304.09,438.16 L305.14,438.24 L306.23,438.32 L307.40,438.40 L308.66,438.48 L309.96,438.57 L311.29,438.65 L312.63,438.73 L313.97,438.82 L315.30,438.90" fill="none" stroke="#000" stroke-width="1.9" stroke-linejoin="round" stroke-dasharray="10.2 6.8"/>
<path d="M420.30,438.40 L421.55,434.25 L422.81,430.36 L424.06,426.88 L425.50,423.12 L426.88,419.64 L428.26,416.69 L429.08,414.55 L429.08,413.48 L431.27,408.38 L433.78,402.49 L435.98,398.47 L437.86,396.06 L437.86,394.18 L442.25,385.87 L446.63,378.64 L446.63,374.08 L451.02,369.52 L455.41,366.04 L455.41,361.48 L464.19,356.66 L464.19,351.57 L472.97,348.62 L472.97,344.60 L481.75,342.46 L481.75,339.24 L490.52,339.78 L490.52,334.95 L499.30,336.29 L499.30,331.20 L508.08,333.88 L508.08,328.25 L516.86,331.20 L516.86,326.11 L525.64,329.32 L525.64,324.77 L534.41,328.25 L534.41,323.70 L543.19,327.72 L543.19,322.89 L551.97,326.91 L551.97,321.82 L560.75,326.64 L560.75,321.55 L569.53,326.24 L569.53,321.15 L578.30,325.97 L578.30,320.88 L587.08,325.71 L587.08,320.61 L595.86,325.44 L595.86,320.35 L604.64,325.30 L604.64,320.21 L613.42,325.30 L613.42,320.21 L622.19,325.30 L622.19,320.21 L630.97,325.30 L630.97,320.21 L639.75,325.30 L639.75,320.21 L648.53,325.30 L648.53,320.21 L657.31,325.30 L657.31,320.21 L666.08,325.30 L666.08,320.21 L671.10,321.28" fill="none" stroke="#000" stroke-width="1.9" stroke-linejoin="round"/>
<path d="M420.30,438.40 L421.55,434.25 L422.81,430.36 L424.06,426.88 L425.50,423.12 L426.88,419.64 L428.26,416.69 L429.08,414.55 L429.08,412.67 L431.27,408.38 L433.78,402.49 L435.98,398.47 L437.86,396.06 L437.86,392.30 L442.25,383.19 L446.63,377.30 L446.63,369.52 L451.02,364.97 L455.41,362.02 L455.41,352.91 L464.19,351.57 L464.19,340.85 L472.97,341.38 L472.97,332.27 L481.75,333.88 L481.75,324.23 L490.52,327.18 L490.52,315.39 L499.30,323.16 L499.30,310.56 L508.08,318.34 L508.08,307.08 L516.86,314.58 L516.86,302.52 L525.64,311.64 L525.64,300.11 L534.41,309.49 L534.41,297.16 L543.19,308.42 L543.19,295.02 L551.97,306.28 L551.97,293.95 L560.75,304.94 L560.75,292.88 L569.53,304.67 L569.53,291.00 L578.30,303.60 L578.30,290.46 L587.08,302.79 L587.08,289.93 L595.86,302.52 L595.86,289.39 L604.64,301.99 L604.64,288.32 L613.42,301.45 L613.42,287.92 L622.19,301.18 L622.19,287.52 L630.97,300.92 L630.97,287.25 L639.75,300.92 L639.75,287.25 L648.53,300.92 L648.53,287.25 L657.31,300.92 L657.31,287.25 L666.08,300.92 L666.08,287.25 L671.10,294.22" fill="none" stroke="#000" stroke-width="1.9" stroke-linejoin="round" stroke-dasharray="10.2 6.8" stroke-dashoffset="-3.5"/>
<line x1="569.1" y1="350.4" x2="597.1" y2="350.4" stroke="#000" stroke-width="1.9" stroke-dasharray="10.5 6.5"/>
<line x1="569.1" y1="373.7" x2="600.8" y2="373.7" stroke="#000" stroke-width="1.9"/>
<text x="604.0" y="358.3" font-size="16.6"><tspan font-family="Liberation Serif" font-style="italic">ω</tspan>=0.</text>
<path d="M643.79,358.30 L645.22,358.30 L645.22,346.63 L644.06,346.63 C643.71,348.01 643.24,348.51 640.94,348.71 L640.94,349.73 L643.79,349.73 Z" fill="#262626"/>
<text x="604.0" y="380.3" font-size="16.6"><tspan font-family="Liberation Serif" font-style="italic">ω</tspan>=0.05</text>
</g>
</svg></body></html>
